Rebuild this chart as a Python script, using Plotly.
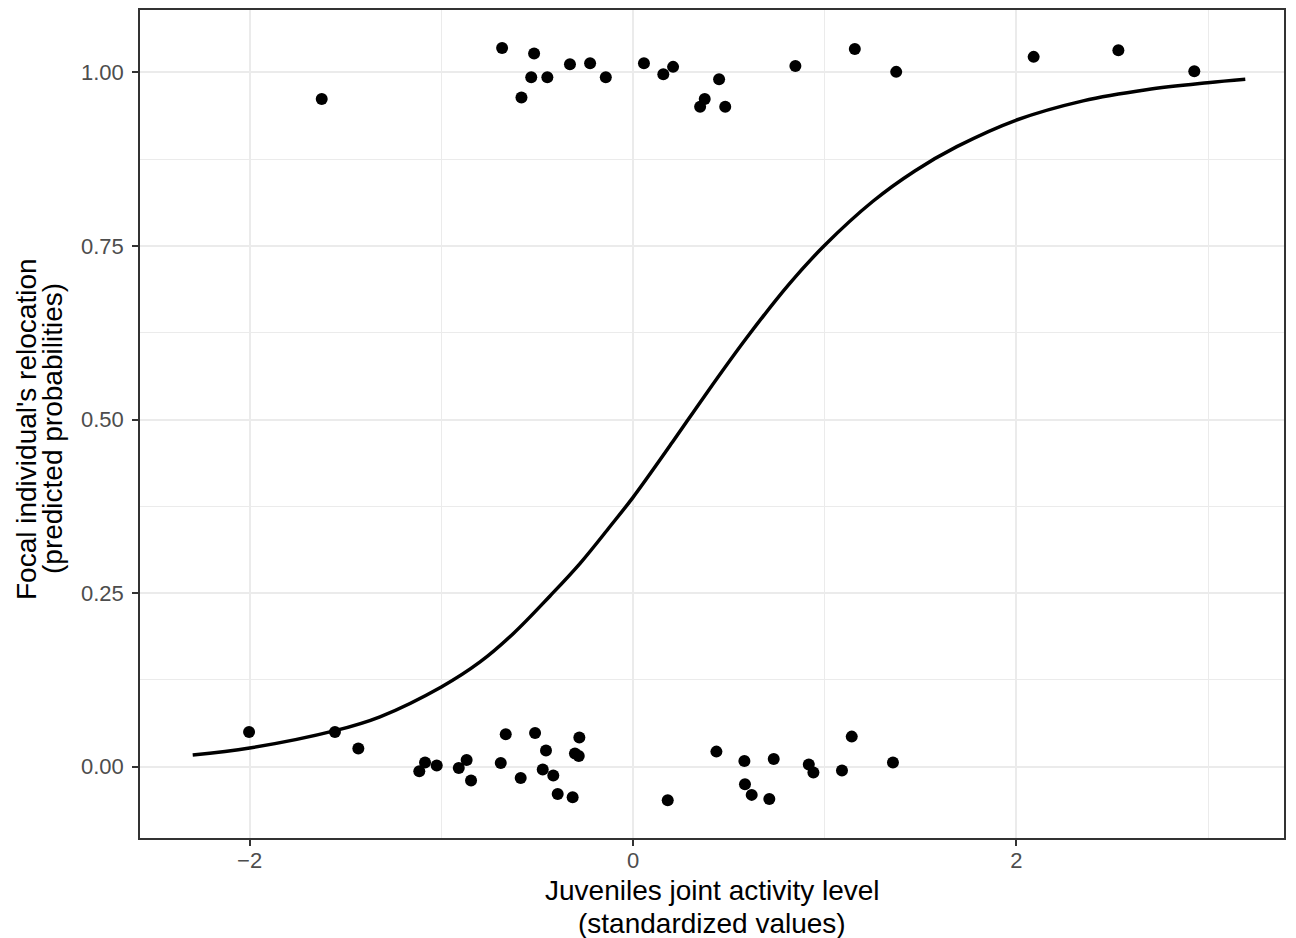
import plotly.graph_objects as go

# Observed data (jittered around 0 and 1)
top_x = [-1.624, -0.683, -0.516, -0.531, -0.582, -0.447, -0.329, -0.224, -0.142, 0.057,
         0.158, 0.209, 0.449, 0.374, 0.350, 0.481, 0.847, 1.157, 1.373, 2.090, 2.532, 2.928]
top_y = [0.9615, 1.0352, 1.027, 0.9928, 0.9638, 0.9931, 1.0118, 1.0132, 0.9931, 1.0132,
         0.9974, 1.0079, 0.9902, 0.9615, 0.9504, 0.9504, 1.0093, 1.0338, 1.0007, 1.0223, 1.0319, 1.0017]

bot_x = [-2.003, -1.555, -1.433, -1.085, -1.115, -1.024, -0.909, -0.868, -0.845, -0.664,
         -0.690, -0.586, -0.511, -0.454, -0.471, -0.416, -0.393, -0.315, -0.280, -0.303,
         -0.283, 0.181, 0.435, 0.581, 0.734, 0.584, 0.619, 0.711, 0.917, 0.941,
         1.090, 1.141, 1.356]
bot_y = [0.050, 0.050, 0.0262, 0.006, -0.0065, 0.0017, -0.0017, 0.0098, -0.0198, 0.0467,
         0.0055, -0.0161, 0.0486, 0.0233, -0.004, -0.0126, -0.0391, -0.0438, 0.042, 0.019,
         0.0155, -0.0481, 0.0218, 0.0083, 0.0112, -0.0251, -0.0405, -0.0463, 0.0032, -0.0083,
         -0.0055, 0.0434, 0.006]

# Fitted curve
curve_x = [-2.297, -2.0, -1.555, -1.32, -1.0, -0.798, -0.624, -0.433, -0.276, -0.12, 0.0,
           0.207, 0.371, 0.591, 0.811, 1.0, 1.25, 1.47, 1.689, 1.997, 2.348, 2.678, 2.997, 3.194]
curve_y = [0.0170, 0.027, 0.052, 0.072, 0.115, 0.151, 0.192, 0.246, 0.293, 0.346, 0.388,
           0.468, 0.533, 0.617, 0.694, 0.751, 0.814, 0.858, 0.893, 0.931, 0.959, 0.975, 0.985, 0.990]

x_ticks = [-2, 0, 2]
x_tick_labels = ["\u22122", "0", "2"]
y_ticks = [0, 0.25, 0.5, 0.75, 1.0]
y_tick_labels = ["0.00", "0.25", "0.50", "0.75", "1.00"]

x_title_lines = ["Juveniles joint activity level", "(standardized values)"]
y_title_lines = ["Focal individual's relocation", "(predicted probabilities)"]

FONT = "Liberation Sans, Arial, Helvetica, sans-serif"

fig = go.Figure()
fig.add_trace(go.Scatter(x=top_x + bot_x, y=top_y + bot_y, mode="markers",
                         marker=dict(color="black", size=12), showlegend=False))
fig.add_trace(go.Scatter(x=curve_x, y=curve_y, mode="lines", line_shape="spline",
                         line=dict(color="black", width=3.5), showlegend=False))

axis_common = dict(
    showline=True, linecolor="#333333", linewidth=1.5, mirror=True,
    ticks="outside", ticklen=6, tickwidth=1.5, tickcolor="#333333",
    tickfont=dict(family=FONT, size=22, color="#4D4D4D"),
    gridcolor="#EBEBEB", gridwidth=2, zeroline=False,
)

fig.update_layout(
    width=1288, height=930,
    margin=dict(l=132, r=12, t=0, b=100),
    plot_bgcolor="white", paper_bgcolor="white",
    font=dict(family=FONT),
    xaxis=dict(
        range=[-2.572, 3.396], tickvals=x_ticks, ticktext=x_tick_labels,
        minor=dict(tickvals=[-1, 1, 3], showgrid=True, gridcolor="#EBEBEB", gridwidth=1, ticks=""),
        ticklabelstandoff=-4,
        **axis_common,
    ),
    yaxis=dict(
        range=[-0.1026, 1.0898], tickvals=y_ticks, ticktext=y_tick_labels,
        minor=dict(tickvals=[0.125, 0.375, 0.625, 0.875], showgrid=True, gridcolor="#EBEBEB", gridwidth=1, ticks=""),
        ticklabelstandoff=4,
        **axis_common,
    ),
)

title_font = dict(family=FONT, size=28, color="black")
for txt, ys in zip(x_title_lines, [-52, -85]):
    fig.add_annotation(text=txt, xref="paper", yref="paper", x=0.5, y=0,
                       xanchor="center", yanchor="middle", yshift=ys, showarrow=False,
                       font=title_font)
for txt, xs in zip(y_title_lines, [-114, -88]):
    fig.add_annotation(text=txt, xref="paper", yref="paper", x=0, y=0.5,
                       xanchor="center", yanchor="middle", xshift=xs, yshift=-5,
                       textangle=-90, showarrow=False, font=title_font)

fig.write_html("out.html")
